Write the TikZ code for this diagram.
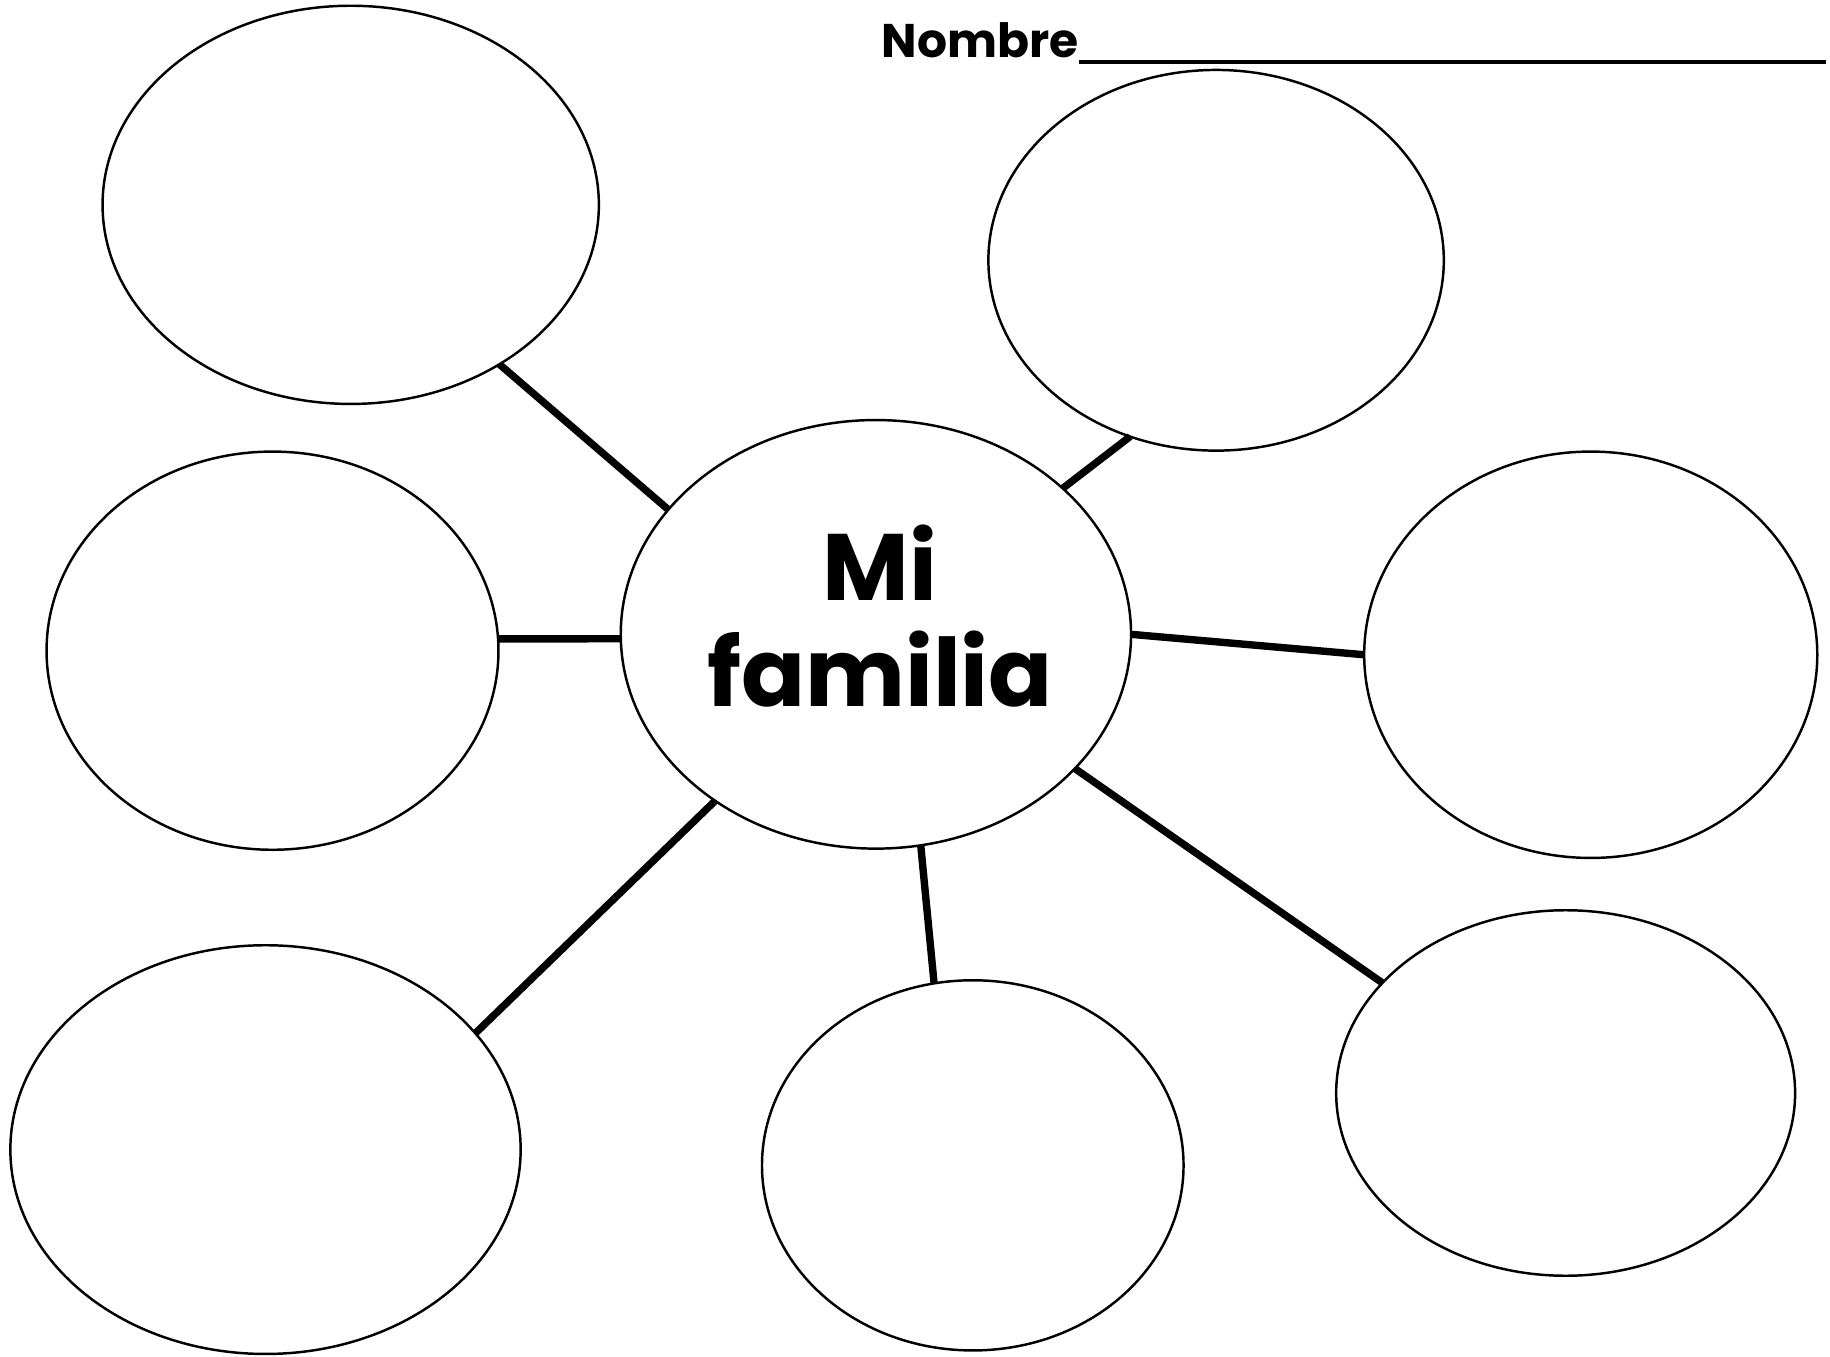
\documentclass[tikz,border=0pt]{standalone}
\usepackage{fontspec}
\setmainfont{Poppins}
\usetikzlibrary{shapes}
\usetikzlibrary{shapes.geometric}

\begin{document}
\begin{tikzpicture}[x=0.01cm,y=-0.01cm,
  bubble/.style={draw,ellipse,line width=0.6pt,inner sep=0pt,outer sep=0pt},
  spoke/.style={line width=1.8pt}]
\useasboundingbox (0,0) rectangle (1568,1162);
\node[anchor=base west,inner sep=0pt] (name) at (755,49) {\fontsize{11.5}{13}\selectfont\bfseries\makebox[8.1cm][l]{Nombre\leaders\hbox{\rule[-0.055cm]{1pt}{0.035cm}}\hfill}};
\node[bubble] (fam) at (750.5,543.5) [minimum width=4.37cm,minimum height=3.67cm] {};
\node[align=center,inner sep=0pt,font=\fontsize{23}{25.9}\selectfont\bfseries] (lbl) at (754,528) {Mi\\familia};
\node[bubble] (tl) at (300.5,175.5) [minimum width=4.25cm,minimum height=3.41cm] {};
\node[bubble] (tr) at (1042,223) [minimum width=3.9cm,minimum height=3.26cm] {};
\node[bubble] (ml) at (233.5,557.5) [minimum width=3.87cm,minimum height=3.41cm] {};
\node[bubble] (mr) at (1363,561) [minimum width=3.88cm,minimum height=3.48cm] {};
\node[bubble] (bl) at (227.5,985) [minimum width=4.37cm,minimum height=3.5cm] {};
\node[bubble] (bm) at (833.5,998.5) [minimum width=3.61cm,minimum height=3.17cm] {};
\node[bubble] (br) at (1341.5,936.5) [minimum width=3.93cm,minimum height=3.13cm] {};
\draw[spoke] (fam.149.7) -- (tl.-47.4);
\draw[spoke] (fam.38.3) -- (tr.-116.7);
\draw[spoke] (fam.181.2) -- (ml.3);
\draw[spoke] (fam.0) -- (mr.180);
\draw[spoke] (fam.226.4) -- (bl.29.9);
\draw[spoke] (fam.-78.9) -- (bm.102.4);
\draw[spoke] (fam.-34.3) -- (br.149.2);
\end{tikzpicture}
\end{document}
